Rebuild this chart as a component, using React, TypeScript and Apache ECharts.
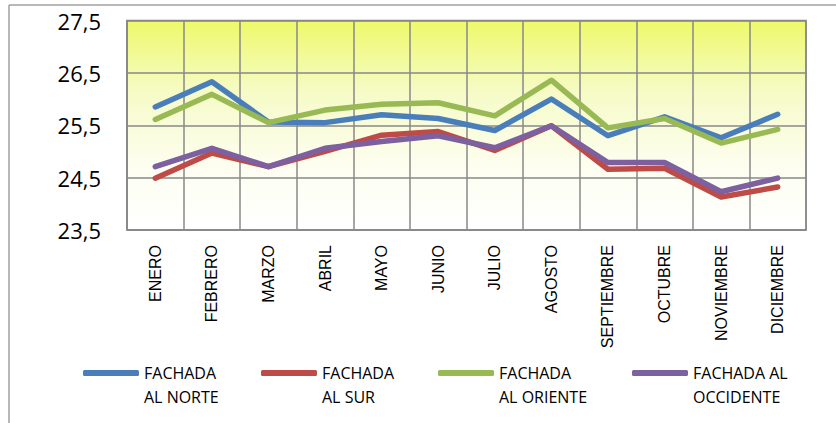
import React, { useEffect, useRef } from "react";
import * as echarts from "echarts";

const months = ["ENERO", "FEBRERO", "MARZO", "ABRIL", "MAYO", "JUNIO", "JULIO", "AGOSTO", "SEPTIEMBRE", "OCTUBRE", "NOVIEMBRE", "DICIEMBRE"];
const norte = [25.85, 26.33, 25.56, 25.55, 25.7, 25.63, 25.4, 26.0, 25.3, 25.66, 25.26, 25.71];
const sur = [24.49, 24.97, 24.71, 25.0, 25.31, 25.38, 25.02, 25.49, 24.66, 24.68, 24.13, 24.32];
const oriente = [25.61, 26.09, 25.55, 25.79, 25.9, 25.93, 25.68, 26.36, 25.45, 25.63, 25.16, 25.42];
const occidente = [24.71, 25.06, 24.71, 25.06, 25.19, 25.3, 25.07, 25.49, 24.79, 24.79, 24.23, 24.49];
const seriesNames = ["FACHADA AL NORTE", "FACHADA AL SUR", "FACHADA AL ORIENTE", "FACHADA AL OCCIDENTE"];
const legendLines = [["FACHADA", "AL NORTE"], ["FACHADA", "AL SUR"], ["FACHADA", "AL ORIENTE"], ["FACHADA AL", "OCCIDENTE"]];
const colors = ["#4A7EBB", "#BE4B48", "#98B954", "#7D60A0"];

export default function App() {
  const ref = useRef<HTMLDivElement>(null);
  useEffect(() => {
    const chart = echarts.init(ref.current!, null, { renderer: "svg" });
    const dataSets = [norte, sur, oriente, occidente];
    const legendLefts = [83, 261, 438, 632];
    const legendFont = "'Open Sans', 'Liberation Sans', sans-serif";
    chart.setOption({
      animation: false,
      backgroundColor: "#ffffff",
      color: colors,
      grid: {
        left: 127,
        top: 20.5,
        right: 30,
        bottom: 193,
        show: true,
        borderColor: "#888888",
        borderWidth: 1.5,
        backgroundColor: new echarts.graphic.LinearGradient(0, 0, 0, 1, [
          { offset: 0, color: "#EEF96A" },
          { offset: 0.35, color: "#F6FBC8" },
          { offset: 0.7, color: "#FDFEF0" },
          { offset: 1, color: "#FFFFFF" },
        ]),
      },
      legend: seriesNames.map((n, i) => ({
        data: [n],
        left: legendLefts[i],
        top: 337,
        padding: 0,
        itemWidth: 56,
        itemHeight: 6,
        itemGap: 2,
        icon: "roundRect",
        formatter: () => "{s| }\n" + legendLines[i][0] + "\n" + legendLines[i][1],
        textStyle: {
          fontFamily: legendFont,
          fontSize: 16,
          lineHeight: 24,
          color: "#000",
          rich: {
            s: { fontSize: 16, lineHeight: 24, height: 24 },
          },
        },
        selectedMode: false,
      })),
      xAxis: {
        type: "category",
        data: months,
        boundaryGap: true,
        axisLine: { show: true, lineStyle: { color: "#888888", width: 1.5 } },
        axisTick: { show: false },
        splitLine: { show: true, interval: 0, lineStyle: { color: "#888888", width: 1.5 } },
        axisLabel: {
          rotate: 90,
          interval: 0,
          margin: 15,
          fontFamily: "'Liberation Sans', Arial, sans-serif",
          fontSize: 16,
          color: "#000",
        },
      },
      yAxis: {
        type: "value",
        min: 23.5,
        max: 27.5,
        interval: 1,
        axisLine: { show: true, lineStyle: { color: "#888888", width: 1.5 } },
        axisTick: { show: false },
        splitLine: { show: true, lineStyle: { color: "#888888", width: 1.5 } },
        axisLabel: {
          margin: 26,
          fontFamily: "'Open Sans', 'Liberation Sans', sans-serif",
          fontSize: 22,
          color: "#000",
          formatter: (v: number) => v.toFixed(1).replace(".", ","),
        },
      },
      graphic: [
        { type: "line", shape: { x1: 9, y1: 5, x2: 836, y2: 5 }, style: { stroke: "#A0A0A0", lineWidth: 1.5 } },
        { type: "line", shape: { x1: 9, y1: 5, x2: 9, y2: 423 }, style: { stroke: "#A0A0A0", lineWidth: 1.5 } },
      ],
      series: dataSets.map((d, i) => ({
        name: seriesNames[i],
        type: "line",
        data: d,
        symbol: "none",
        lineStyle: { width: 5.5, color: colors[i], cap: "round", join: "round" },
      })),
    });
    return () => chart.dispose();
  }, []);
  return <div ref={ref} style={{ position: "fixed", left: 0, top: 0, width: 836, height: 423 }} />;
}
